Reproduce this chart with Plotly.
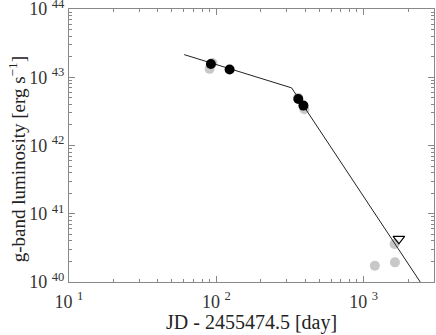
import numpy as np
import plotly.graph_objects as go

# g-band luminosity light curve
det_day = [91.8, 123, 360, 390]
det_lum = [1.57e43, 1.30e43, 4.8e42, 3.85e42]

gray_day = [90, 94, 358, 396, 1190, 1630, 1620]
gray_lum = [1.33e43, 1.62e43, 5.0e42, 3.4e42, 1.73e40, 1.94e40, 3.6e40]

lim_day = [1733]
lim_lum = [4.3e40]

# broken power-law fit
fit_day = [60.5, 324, 2420]
fit_lum = [2.15e43, 7.0e42, 1.0e40]

xticks = [10, 100, 1000]
xtick_text = ["10 <sup>1</sup>", "10 <sup>2</sup>", "10 <sup>3</sup>"]
yticks = [1e40, 1e41, 1e42, 1e43, 1e44]
ytick_text = ["10 <sup>40</sup>", "10 <sup>41</sup>", "10 <sup>42</sup>",
              "10 <sup>43</sup>", "10 <sup>44</sup>"]

font = "Liberation Serif"

fig = go.Figure()
fig.add_trace(go.Scatter(x=gray_day, y=gray_lum, mode="markers",
                         marker=dict(size=10, color="#c8c8c8")))
fig.add_trace(go.Scatter(x=fit_day, y=fit_lum, mode="lines",
                         line=dict(color="#222", width=1)))
fig.add_trace(go.Scatter(x=det_day, y=det_lum, mode="markers",
                         marker=dict(size=10, color="black")))
fig.add_trace(go.Scatter(x=lim_day, y=lim_lum, mode="markers",
                         marker=dict(size=10, symbol="triangle-down-open",
                                     color="black", line=dict(width=1.2))))

axis_common = dict(type="log", showgrid=False, zeroline=False,
                   showline=True, linecolor="#888", linewidth=1,
                   mirror="allticks", ticks="inside", ticklen=6,
                   tickcolor="#888", automargin=False,
                   ticklabeloverflow="allow",
                   minor=dict(ticks="inside", ticklen=3, tickcolor="#888",
                              dtick="D1", showgrid=False),
                   tickfont=dict(family=font, size=18, color="#333"))

fig.update_xaxes(range=[1, np.log10(3000)], tickvals=xticks,
                 ticktext=xtick_text, ticklabelstandoff=3,
                 **axis_common)
fig.update_yaxes(range=[40, 44.001], tickvals=yticks, ticktext=ytick_text,
                 **axis_common)

# axis titles as annotations so they can be placed like the reference
fig.add_annotation(text="JD - 2455474.5 [day]",
                   xref="paper", yref="paper", x=0.5, y=-0.148,
                   xanchor="center", yanchor="middle", showarrow=False,
                   font=dict(family=font, size=20, color="#222"))
fig.add_annotation(text="g-band luminosity [erg s<sup>−1</sup>]",
                   xref="paper", yref="paper", x=-0.142, y=0.45,
                   xanchor="center", yanchor="middle", textangle=-90,
                   showarrow=False,
                   font=dict(family=font, size=19, color="#222"))

fig.update_layout(width=436, height=335, showlegend=False,
                  plot_bgcolor="white", paper_bgcolor="white",
                  margin=dict(l=69, r=2, t=9, b=53))

# browser default body margin would shift the figure by 8px
fig.write_html("out.html", config={"displayModeBar": False},
               post_script="document.body.style.margin='0';")
